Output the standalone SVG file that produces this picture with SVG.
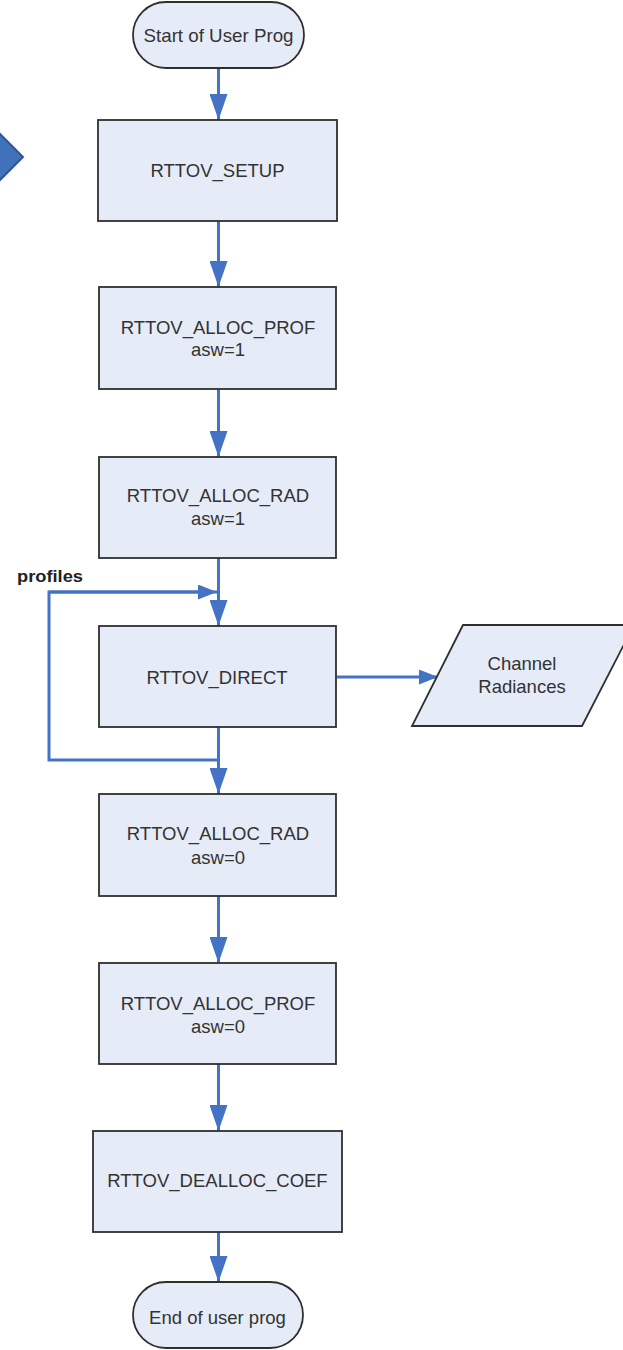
<svg xmlns="http://www.w3.org/2000/svg" width="623" height="1350" viewBox="0 0 623 1350">
<style>
.box{fill:#e6ecf7;stroke:#2f2f2f;stroke-width:1.8}
.t{font-family:"Liberation Sans",Arial,sans-serif;font-size:18.5px;fill:#333;text-anchor:middle}
.lbl{font-family:"Liberation Sans",Arial,sans-serif;font-size:17px;font-weight:bold;fill:#222}
.c{fill:none;stroke:#4472c4;stroke-width:3}
.cn{fill:none;stroke:#4472c4;stroke-width:3;marker-end:url(#ah)}
.cs{fill:none;stroke:#4472c4;stroke-width:3;marker-end:url(#ahs)}
</style>
<defs>
<marker id="ah" markerUnits="userSpaceOnUse" markerWidth="26" markerHeight="18" refX="26" refY="9" orient="auto"><path d="M0,0 L26,9 L0,18 z" fill="#4472c4"/></marker>
<marker id="ahs" markerUnits="userSpaceOnUse" markerWidth="19" markerHeight="15" refX="19" refY="7.5" orient="auto"><path d="M0,0 L19,7.5 L0,15 z" fill="#4472c4"/></marker>
</defs>
<rect width="623" height="1350" fill="#fff"/>
<g id="chevron"><polygon points="-10,124 23,157 -10,190" fill="#3f72bb" stroke="#2f5597" stroke-width="2"/></g>
<g id="connectors">
<line class="cn" x1="218.5" y1="68" x2="218.5" y2="120"/>
<line class="cn" x1="218.5" y1="221" x2="218.5" y2="287"/>
<line class="cn" x1="218.5" y1="389" x2="218.5" y2="457"/>
<line class="cn" x1="218.5" y1="558" x2="218.5" y2="626"/>
<line class="cn" x1="218.5" y1="727" x2="218.5" y2="794"/>
<polyline class="c" points="218.5,760 49,760 49,592 200,592"/>
<line class="cs" x1="49" y1="592" x2="217" y2="592"/>
<line class="cs" x1="337" y1="677" x2="438" y2="677"/>
<line class="cn" x1="218.5" y1="896" x2="218.5" y2="963"/>
<line class="cn" x1="218.5" y1="1064" x2="218.5" y2="1131"/>
<line class="cn" x1="218.5" y1="1232" x2="218.5" y2="1282"/>
</g>
<g id="start"><rect class="box" x="133" y="2" width="171" height="66" rx="33"/><text class="t" x="218.5" y="42" textLength="150" lengthAdjust="spacingAndGlyphs">Start of User Prog</text></g>
<g id="setup"><rect class="box" x="98" y="120" width="239" height="101"/><text class="t" x="217.5" y="177">RTTOV_SETUP</text></g>
<g id="allocprof1"><rect class="box" x="99" y="287" width="237" height="102"/><text class="t" x="218" y="334">RTTOV_ALLOC_PROF</text><text class="t" x="218" y="356">asw=1</text></g>
<g id="allocrad1"><rect class="box" x="99" y="457" width="237" height="101"/><text class="t" x="218" y="502">RTTOV_ALLOC_RAD</text><text class="t" x="218" y="525">asw=1</text></g>
<g id="direct"><rect class="box" x="99" y="626" width="237" height="101"/><text class="t" x="217" y="684">RTTOV_DIRECT</text></g>
<g id="radiances"><polygon class="box" points="463,625 634,625 582,726 412,726"/><text class="t" x="522" y="670">Channel</text><text class="t" x="522" y="693">Radiances</text></g>
<g id="allocrad0"><rect class="box" x="99" y="794" width="237" height="102"/><text class="t" x="218" y="840">RTTOV_ALLOC_RAD</text><text class="t" x="218" y="864">asw=0</text></g>
<g id="allocprof0"><rect class="box" x="99" y="963" width="237" height="101"/><text class="t" x="218" y="1010">RTTOV_ALLOC_PROF</text><text class="t" x="218" y="1033">asw=0</text></g>
<g id="dealloc"><rect class="box" x="93" y="1131" width="249" height="101"/><text class="t" x="217.5" y="1187">RTTOV_DEALLOC_COEF</text></g>
<g id="end"><rect class="box" x="133" y="1282" width="170" height="66" rx="33"/><text class="t" x="217.5" y="1324">End of user prog</text></g>
<g id="profiles-label"><text class="lbl" x="17" y="582" textLength="66" lengthAdjust="spacingAndGlyphs">profiles</text></g>
</svg>
